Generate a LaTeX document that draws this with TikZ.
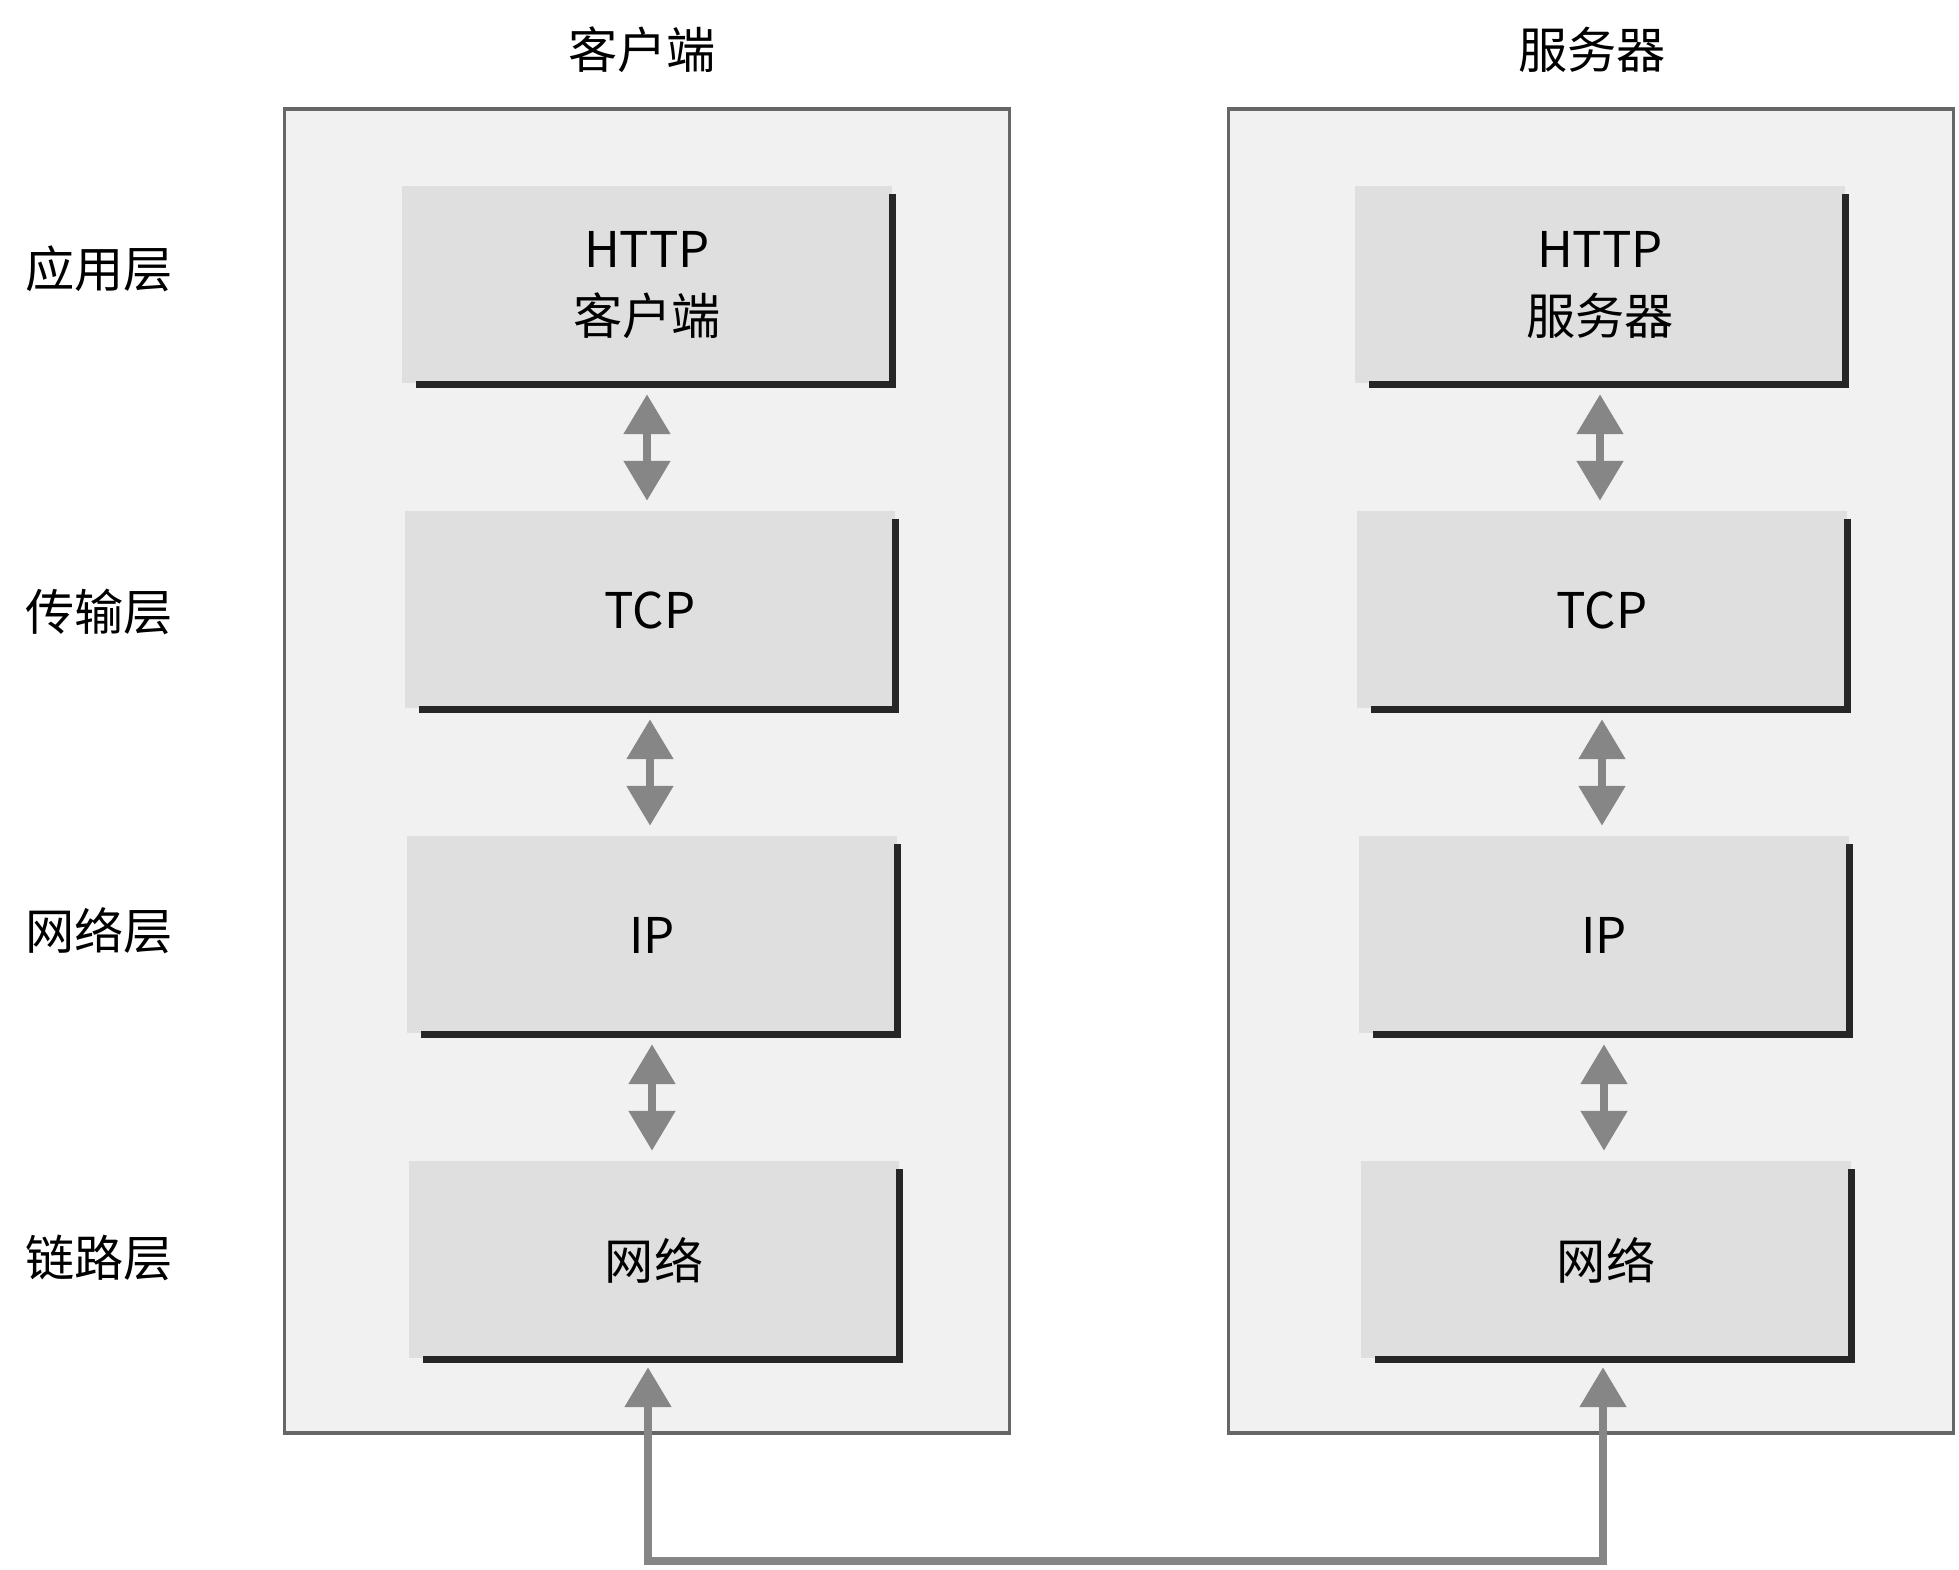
\documentclass[tikz,border=0pt]{standalone}
\usepackage{fontspec}
\newfontfamily\cjk{Noto Sans CJK SC}
\usetikzlibrary{arrows.meta}
\definecolor{hostfill}{HTML}{F1F1F1}
\definecolor{layerfill}{HTML}{DFDFDF}
\definecolor{linkgray}{HTML}{868686}

\begin{document}
\begin{tikzpicture}[font=\cjk\fontsize{14}{19}\selectfont,
  host/.style={draw=black!60,line width=0.9pt,fill=hostfill,minimum width=7.25cm,minimum height=13.24cm},
  layer/.style={fill=layerfill,minimum width=4.9cm,minimum height=1.97cm,align=center,inner sep=0pt},
  edge/.style={line width=1.9pt,black!85},
  link/.style={linkgray,line width=2.4pt,shorten <=0.1cm,shorten >=0.1cm,
    {Triangle[width=0.45cm,length=0.4cm]}-{Triangle[width=0.45cm,length=0.4cm]}}]
\useasboundingbox (0,0) rectangle (19.59,15.70);
\node[host] (client) at (6.47,7.99) {};
\node[host] (server) at (15.91,7.99) {};
\node (client-title) at (6.42,15.20) {客户端};
\node (server-title) at (15.92,15.20) {服务器};
\node (app-layer) at (0.99,13.01) {应用层};
\node (tcp-layer) at (0.99,9.58) {传输层};
\node (ip-layer) at (0.99,6.39) {网络层};
\node (net-layer) at (0.99,3.12) {链路层};
\node[layer] (c-app) at (6.47,12.85) {HTTP\\客户端};
\node[layer] (c-tcp) at (6.50,9.60) {TCP};
\node[layer] (c-ip) at (6.52,6.35) {IP};
\node[layer] (c-net) at (6.54,3.10) {网络};
\node[layer] (s-app) at (16.00,12.85) {HTTP\\服务器};
\node[layer] (s-tcp) at (16.02,9.60) {TCP};
\node[layer] (s-ip) at (16.04,6.35) {IP};
\node[layer] (s-net) at (16.06,3.10) {网络};
\foreach \b in {c-app,c-tcp,c-ip,c-net,s-app,s-tcp,s-ip,s-net}
  \draw[edge] ([xshift=0.15cm]\b.south west) -- (\b.south east) -- ([yshift=-0.08cm]\b.north east);
\foreach \a/\b in {c-app/c-tcp,c-tcp/c-ip,c-ip/c-net,s-app/s-tcp,s-tcp/s-ip,s-ip/s-net}
  \draw[link] (\a.south) -- (\a.south |- \b.north);
\coordinate (bus-left) at ([xshift=-0.06cm]c-net.south |- 0,0.09);
\coordinate (bus-right) at ([xshift=-0.03cm]s-net.south |- 0,0.09);
\draw[link,shorten <=0.08cm,shorten >=0.08cm] (bus-left |- c-net.south) -- (bus-left) -- (bus-right) -- (bus-right |- s-net.south);
\end{tikzpicture}
\end{document}
